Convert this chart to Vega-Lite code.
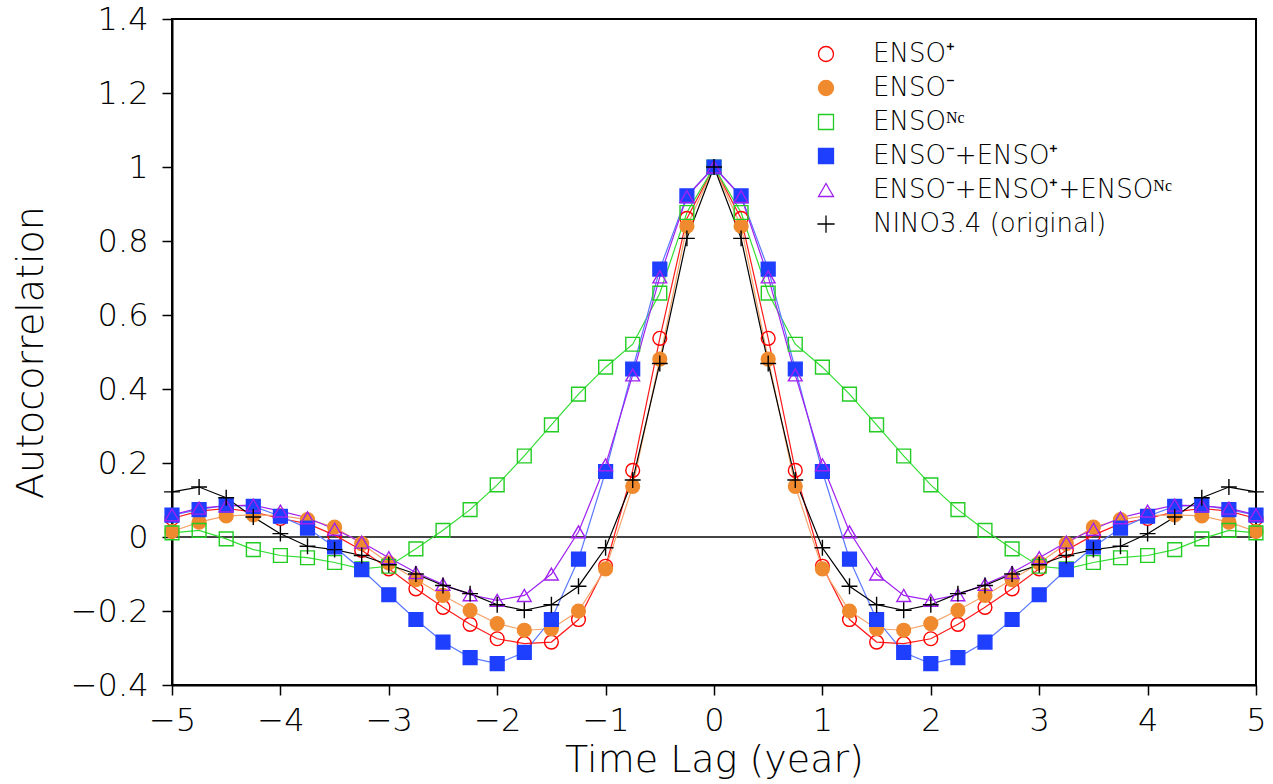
{
  "$schema": "https://vega.github.io/schema/vega-lite/v6.json",
  "width": 1084,
  "height": 666,
  "autosize": {"type": "none"},
  "padding": {"left": 172, "top": 19, "right": 17, "bottom": 99},
  "background": "white",
  "config": {
    "view": {"stroke": "black", "strokeWidth": 2},
    "font": "DejaVu Sans",
    "axis": {
      "labelFont": "DejaVu Sans", "labelFontWeight": 200, "labelFontSize": 32, "labelColor": "black",
      "titleFont": "DejaVu Sans", "titleFontWeight": 200, "titleFontSize": 38, "titleColor": "black",
      "domainColor": "black", "domainWidth": 2, "tickColor": "black", "tickWidth": 1.5, "tickSize": 10,
      "grid": false, "labelFlush": false, "labelOverlap": false
    },
    "legend": {
      "orient": "none", "legendX": 601, "legendY": 22, "padding": 0,
      "symbolSize": 225, "symbolStrokeWidth": 1.3, "symbolOffset": 40, "labelOffset": 34, "labelLimit": 600,
      "labelFont": "DejaVu Sans", "labelFontWeight": 200, "labelFontSize": 26, "labelColor": "black", "rowPadding": 8
    }
  },
  "data": {"values": [
    {"s":"p","x":-5,"y":0.05},{"s":"p","x":-4.75,"y":0.07},{"s":"p","x":-4.5,"y":0.077},{"s":"p","x":-4.25,"y":0.068},{"s":"p","x":-4,"y":0.05},{"s":"p","x":-3.75,"y":0.036},{"s":"p","x":-3.5,"y":0.005},{"s":"p","x":-3.25,"y":-0.036},{"s":"p","x":-3,"y":-0.086},{"s":"p","x":-2.75,"y":-0.14},{"s":"p","x":-2.5,"y":-0.19},{"s":"p","x":-2.25,"y":-0.236},{"s":"p","x":-2,"y":-0.275},{"s":"p","x":-1.75,"y":-0.288},{"s":"p","x":-1.5,"y":-0.284},{"s":"p","x":-1.25,"y":-0.223},{"s":"p","x":-1,"y":-0.079},{"s":"p","x":-0.75,"y":0.18},{"s":"p","x":-0.5,"y":0.537},{"s":"p","x":-0.25,"y":0.861},{"s":"p","x":0,"y":1},{"s":"p","x":0.25,"y":0.861},{"s":"p","x":0.5,"y":0.537},{"s":"p","x":0.75,"y":0.18},{"s":"p","x":1,"y":-0.079},{"s":"p","x":1.25,"y":-0.223},{"s":"p","x":1.5,"y":-0.284},{"s":"p","x":1.75,"y":-0.288},{"s":"p","x":2,"y":-0.275},{"s":"p","x":2.25,"y":-0.236},{"s":"p","x":2.5,"y":-0.19},{"s":"p","x":2.75,"y":-0.14},{"s":"p","x":3,"y":-0.086},{"s":"p","x":3.25,"y":-0.036},{"s":"p","x":3.5,"y":0.005},{"s":"p","x":3.75,"y":0.036},{"s":"p","x":4,"y":0.05},{"s":"p","x":4.25,"y":0.068},{"s":"p","x":4.5,"y":0.077},{"s":"p","x":4.75,"y":0.07},{"s":"p","x":5,"y":0.05},
    {"s":"m","x":-5,"y":0.015},{"s":"m","x":-4.75,"y":0.04},{"s":"m","x":-4.5,"y":0.057},{"s":"m","x":-4.25,"y":0.06},{"s":"m","x":-4,"y":0.058},{"s":"m","x":-3.75,"y":0.047},{"s":"m","x":-3.5,"y":0.027},{"s":"m","x":-3.25,"y":-0.018},{"s":"m","x":-3,"y":-0.07},{"s":"m","x":-2.75,"y":-0.115},{"s":"m","x":-2.5,"y":-0.158},{"s":"m","x":-2.25,"y":-0.198},{"s":"m","x":-2,"y":-0.234},{"s":"m","x":-1.75,"y":-0.252},{"s":"m","x":-1.5,"y":-0.248},{"s":"m","x":-1.25,"y":-0.2},{"s":"m","x":-1,"y":-0.086},{"s":"m","x":-0.75,"y":0.137},{"s":"m","x":-0.5,"y":0.481},{"s":"m","x":-0.25,"y":0.84},{"s":"m","x":0,"y":1},{"s":"m","x":0.25,"y":0.84},{"s":"m","x":0.5,"y":0.481},{"s":"m","x":0.75,"y":0.137},{"s":"m","x":1,"y":-0.086},{"s":"m","x":1.25,"y":-0.2},{"s":"m","x":1.5,"y":-0.248},{"s":"m","x":1.75,"y":-0.252},{"s":"m","x":2,"y":-0.234},{"s":"m","x":2.25,"y":-0.198},{"s":"m","x":2.5,"y":-0.158},{"s":"m","x":2.75,"y":-0.115},{"s":"m","x":3,"y":-0.07},{"s":"m","x":3.25,"y":-0.018},{"s":"m","x":3.5,"y":0.027},{"s":"m","x":3.75,"y":0.047},{"s":"m","x":4,"y":0.058},{"s":"m","x":4.25,"y":0.06},{"s":"m","x":4.5,"y":0.057},{"s":"m","x":4.75,"y":0.04},{"s":"m","x":5,"y":0.015},
    {"s":"nc","x":-5,"y":0.011},{"s":"nc","x":-4.75,"y":0.018},{"s":"nc","x":-4.5,"y":-0.005},{"s":"nc","x":-4.25,"y":-0.034},{"s":"nc","x":-4,"y":-0.05},{"s":"nc","x":-3.75,"y":-0.056},{"s":"nc","x":-3.5,"y":-0.069},{"s":"nc","x":-3.25,"y":-0.086},{"s":"nc","x":-3,"y":-0.079},{"s":"nc","x":-2.75,"y":-0.032},{"s":"nc","x":-2.5,"y":0.018},{"s":"nc","x":-2.25,"y":0.074},{"s":"nc","x":-2,"y":0.141},{"s":"nc","x":-1.75,"y":0.219},{"s":"nc","x":-1.5,"y":0.303},{"s":"nc","x":-1.25,"y":0.386},{"s":"nc","x":-1,"y":0.459},{"s":"nc","x":-0.75,"y":0.521},{"s":"nc","x":-0.5,"y":0.659},{"s":"nc","x":-0.25,"y":0.877},{"s":"nc","x":0,"y":1},{"s":"nc","x":0.25,"y":0.877},{"s":"nc","x":0.5,"y":0.659},{"s":"nc","x":0.75,"y":0.521},{"s":"nc","x":1,"y":0.459},{"s":"nc","x":1.25,"y":0.386},{"s":"nc","x":1.5,"y":0.303},{"s":"nc","x":1.75,"y":0.219},{"s":"nc","x":2,"y":0.141},{"s":"nc","x":2.25,"y":0.074},{"s":"nc","x":2.5,"y":0.018},{"s":"nc","x":2.75,"y":-0.032},{"s":"nc","x":3,"y":-0.079},{"s":"nc","x":3.25,"y":-0.086},{"s":"nc","x":3.5,"y":-0.069},{"s":"nc","x":3.75,"y":-0.056},{"s":"nc","x":4,"y":-0.05},{"s":"nc","x":4.25,"y":-0.034},{"s":"nc","x":4.5,"y":-0.005},{"s":"nc","x":4.75,"y":0.018},{"s":"nc","x":5,"y":0.011},
    {"s":"mp","x":-5,"y":0.059},{"s":"mp","x":-4.75,"y":0.074},{"s":"mp","x":-4.5,"y":0.086},{"s":"mp","x":-4.25,"y":0.083},{"s":"mp","x":-4,"y":0.056},{"s":"mp","x":-3.75,"y":0.024},{"s":"mp","x":-3.5,"y":-0.027},{"s":"mp","x":-3.25,"y":-0.088},{"s":"mp","x":-3,"y":-0.156},{"s":"mp","x":-2.75,"y":-0.223},{"s":"mp","x":-2.5,"y":-0.284},{"s":"mp","x":-2.25,"y":-0.326},{"s":"mp","x":-2,"y":-0.342},{"s":"mp","x":-1.75,"y":-0.312},{"s":"mp","x":-1.5,"y":-0.223},{"s":"mp","x":-1.25,"y":-0.06},{"s":"mp","x":-1,"y":0.177},{"s":"mp","x":-0.75,"y":0.454},{"s":"mp","x":-0.5,"y":0.724},{"s":"mp","x":-0.25,"y":0.922},{"s":"mp","x":0,"y":1},{"s":"mp","x":0.25,"y":0.922},{"s":"mp","x":0.5,"y":0.724},{"s":"mp","x":0.75,"y":0.454},{"s":"mp","x":1,"y":0.177},{"s":"mp","x":1.25,"y":-0.06},{"s":"mp","x":1.5,"y":-0.223},{"s":"mp","x":1.75,"y":-0.312},{"s":"mp","x":2,"y":-0.342},{"s":"mp","x":2.25,"y":-0.326},{"s":"mp","x":2.5,"y":-0.284},{"s":"mp","x":2.75,"y":-0.223},{"s":"mp","x":3,"y":-0.156},{"s":"mp","x":3.25,"y":-0.088},{"s":"mp","x":3.5,"y":-0.027},{"s":"mp","x":3.75,"y":0.024},{"s":"mp","x":4,"y":0.056},{"s":"mp","x":4.25,"y":0.083},{"s":"mp","x":4.5,"y":0.086},{"s":"mp","x":4.75,"y":0.074},{"s":"mp","x":5,"y":0.059},
    {"s":"mpn","x":-5,"y":0.06},{"s":"mpn","x":-4.75,"y":0.078},{"s":"mpn","x":-4.5,"y":0.084},{"s":"mpn","x":-4.25,"y":0.086},{"s":"mpn","x":-4,"y":0.07},{"s":"mpn","x":-3.75,"y":0.052},{"s":"mpn","x":-3.5,"y":0.021},{"s":"mpn","x":-3.25,"y":-0.014},{"s":"mpn","x":-3,"y":-0.056},{"s":"mpn","x":-2.75,"y":-0.096},{"s":"mpn","x":-2.5,"y":-0.128},{"s":"mpn","x":-2.25,"y":-0.156},{"s":"mpn","x":-2,"y":-0.171},{"s":"mpn","x":-1.75,"y":-0.158},{"s":"mpn","x":-1.5,"y":-0.1},{"s":"mpn","x":-1.25,"y":0.014},{"s":"mpn","x":-1,"y":0.195},{"s":"mpn","x":-0.75,"y":0.438},{"s":"mpn","x":-0.5,"y":0.703},{"s":"mpn","x":-0.25,"y":0.92},{"s":"mpn","x":0,"y":1},{"s":"mpn","x":0.25,"y":0.92},{"s":"mpn","x":0.5,"y":0.703},{"s":"mpn","x":0.75,"y":0.438},{"s":"mpn","x":1,"y":0.195},{"s":"mpn","x":1.25,"y":0.014},{"s":"mpn","x":1.5,"y":-0.1},{"s":"mpn","x":1.75,"y":-0.158},{"s":"mpn","x":2,"y":-0.171},{"s":"mpn","x":2.25,"y":-0.156},{"s":"mpn","x":2.5,"y":-0.128},{"s":"mpn","x":2.75,"y":-0.096},{"s":"mpn","x":3,"y":-0.056},{"s":"mpn","x":3.25,"y":-0.014},{"s":"mpn","x":3.5,"y":0.021},{"s":"mpn","x":3.75,"y":0.052},{"s":"mpn","x":4,"y":0.07},{"s":"mpn","x":4.25,"y":0.086},{"s":"mpn","x":4.5,"y":0.084},{"s":"mpn","x":4.75,"y":0.078},{"s":"mpn","x":5,"y":0.06},
    {"s":"nino","x":-5,"y":0.122},{"s":"nino","x":-4.75,"y":0.135},{"s":"nino","x":-4.5,"y":0.106},{"s":"nino","x":-4.25,"y":0.054},{"s":"nino","x":-4,"y":0.009},{"s":"nino","x":-3.75,"y":-0.025},{"s":"nino","x":-3.5,"y":-0.034},{"s":"nino","x":-3.25,"y":-0.05},{"s":"nino","x":-3,"y":-0.075},{"s":"nino","x":-2.75,"y":-0.1},{"s":"nino","x":-2.5,"y":-0.131},{"s":"nino","x":-2.25,"y":-0.153},{"s":"nino","x":-2,"y":-0.183},{"s":"nino","x":-1.75,"y":-0.198},{"s":"nino","x":-1.5,"y":-0.183},{"s":"nino","x":-1.25,"y":-0.133},{"s":"nino","x":-1,"y":-0.029},{"s":"nino","x":-0.75,"y":0.154},{"s":"nino","x":-0.5,"y":0.469},{"s":"nino","x":-0.25,"y":0.807},{"s":"nino","x":0,"y":1},{"s":"nino","x":0.25,"y":0.807},{"s":"nino","x":0.5,"y":0.469},{"s":"nino","x":0.75,"y":0.154},{"s":"nino","x":1,"y":-0.029},{"s":"nino","x":1.25,"y":-0.133},{"s":"nino","x":1.5,"y":-0.183},{"s":"nino","x":1.75,"y":-0.198},{"s":"nino","x":2,"y":-0.183},{"s":"nino","x":2.25,"y":-0.153},{"s":"nino","x":2.5,"y":-0.131},{"s":"nino","x":2.75,"y":-0.1},{"s":"nino","x":3,"y":-0.075},{"s":"nino","x":3.25,"y":-0.05},{"s":"nino","x":3.5,"y":-0.034},{"s":"nino","x":3.75,"y":-0.025},{"s":"nino","x":4,"y":0.009},{"s":"nino","x":4.25,"y":0.054},{"s":"nino","x":4.5,"y":0.106},{"s":"nino","x":4.75,"y":0.135},{"s":"nino","x":5,"y":0.122}
  ]},
  "encoding": {
    "x": {"field": "x", "type": "quantitative", "scale": {"domain": [-5, 5], "nice": false, "zero": false},
      "axis": {"values": [-5,-4,-3,-2,-1,0,1,2,3,4,5], "format": "~g", "title": "Time Lag (year)", "labelPadding": 10, "titleY": 86, "titleBaseline": "alphabetic"}},
    "y": {"field": "y", "type": "quantitative", "scale": {"domain": [-0.4, 1.4], "nice": false, "zero": false},
      "axis": {"values": [-0.4,-0.2,0,0.2,0.4,0.6,0.8,1,1.2,1.4], "format": "~g", "title": "Autocorrelation", "labelPadding": 14, "titleX": -130, "titleBaseline": "alphabetic"}}
  },
  "layer": [
    {
      "mark": {"type": "rule", "color": "#444444", "strokeWidth": 1.2},
      "encoding": {"x": {"datum": -5}, "x2": {"datum": 5}, "y": {"datum": 0}}
    },
    {
      "mark": {"type": "line", "strokeWidth": 1.2},
      "encoding": {
        "color": {"field": "s", "type": "nominal", "legend": null,
          "scale": {"domain": ["nino","mpn","mp","nc","m","p"], "range": ["#000000","#a020f0","#5a78ff","#33dd33","#f4a46a","#ff1a1a"]}},
        "detail": {"field": "s"}
      }
    },
    {
      "mark": {"type": "point", "size": 190, "strokeWidth": 1.4, "opacity": 1, "fillOpacity": 1, "strokeOpacity": 1},
      "encoding": {
        "fill": {"field": "s", "type": "nominal",
          "scale": {"domain": ["p","m","nc","mp","mpn","nino"], "range": ["transparent","#f08a2e","transparent","#1f3fff","transparent","transparent"]},
          "legend": {
            "title": null,
            "labelExpr": "datum.value === 'p' ? 'ENSO⁺' : datum.value === 'm' ? 'ENSO⁻' : datum.value === 'nc' ? 'ENSOᴺᶜ' : datum.value === 'mp' ? 'ENSO⁻+ENSO⁺' : datum.value === 'mpn' ? 'ENSO⁻+ENSO⁺+ENSOᴺᶜ' : 'NINO3.4 (original)'",
            "encode": {"symbols": {"shape": {"condition": [
              {"test": "datum.value === 'p' || datum.value === 'm'", "value": "M-4.4,0H4.4M-3.4,0A1,1,0,1,1,-5.4,0A1,1,0,1,1,-3.4,0ZM5.4,0A1,1,0,1,1,3.4,0A1,1,0,1,1,5.4,0Z"},
              {"test": "datum.value === 'nc' || datum.value === 'mp'", "value": "M-4.4,0H4.4M-5.3,-0.9H-3.5V0.9H-5.3ZM3.5,-0.9H5.3V0.9H3.5Z"},
              {"test": "datum.value === 'mpn'", "value": "M-4.4,0H4.4M-4.4,-0.9L-3.4,0.8H-5.4ZM4.4,-0.9L5.4,0.8H3.4Z"}
            ], "value": "M-4.4,0H4.4M-4.4,-1V1M4.4,-1V1"}}}
          }},
        "stroke": {"field": "s", "type": "nominal",
          "scale": {"domain": ["p","m","nc","mp","mpn","nino"], "range": ["#ff0000","#f08a2e","#22cc22","#1f3fff","#a020f0","#000000"]},
          "legend": {
            "title": null,
            "labelExpr": "datum.value === 'p' ? 'ENSO⁺' : datum.value === 'm' ? 'ENSO⁻' : datum.value === 'nc' ? 'ENSOᴺᶜ' : datum.value === 'mp' ? 'ENSO⁻+ENSO⁺' : datum.value === 'mpn' ? 'ENSO⁻+ENSO⁺+ENSOᴺᶜ' : 'NINO3.4 (original)'",
            "encode": {"symbols": {"shape": {"condition": [
              {"test": "datum.value === 'p' || datum.value === 'm'", "value": "M-4.4,0H4.4M-3.4,0A1,1,0,1,1,-5.4,0A1,1,0,1,1,-3.4,0ZM5.4,0A1,1,0,1,1,3.4,0A1,1,0,1,1,5.4,0Z"},
              {"test": "datum.value === 'nc' || datum.value === 'mp'", "value": "M-4.4,0H4.4M-5.3,-0.9H-3.5V0.9H-5.3ZM3.5,-0.9H5.3V0.9H3.5Z"},
              {"test": "datum.value === 'mpn'", "value": "M-4.4,0H4.4M-4.4,-0.9L-3.4,0.8H-5.4ZM4.4,-0.9L5.4,0.8H3.4Z"}
            ], "value": "M-4.4,0H4.4M-4.4,-1V1M4.4,-1V1"}}}
          }},
        "shape": {"field": "s", "type": "nominal",
          "scale": {"domain": ["p","m","nc","mp","mpn","nino"], "range": ["circle","circle","square","square","triangle-up","M-1.15,0H1.15M0,-1.15V1.15"]},
          "legend": {
            "title": null,
            "labelExpr": "datum.value === 'p' ? 'ENSO⁺' : datum.value === 'm' ? 'ENSO⁻' : datum.value === 'nc' ? 'ENSOᴺᶜ' : datum.value === 'mp' ? 'ENSO⁻+ENSO⁺' : datum.value === 'mpn' ? 'ENSO⁻+ENSO⁺+ENSOᴺᶜ' : 'NINO3.4 (original)'",
            "encode": {"symbols": {"shape": {"condition": [
              {"test": "datum.value === 'p' || datum.value === 'm'", "value": "M-4.4,0H4.4M-3.4,0A1,1,0,1,1,-5.4,0A1,1,0,1,1,-3.4,0ZM5.4,0A1,1,0,1,1,3.4,0A1,1,0,1,1,5.4,0Z"},
              {"test": "datum.value === 'nc' || datum.value === 'mp'", "value": "M-4.4,0H4.4M-5.3,-0.9H-3.5V0.9H-5.3ZM3.5,-0.9H5.3V0.9H3.5Z"},
              {"test": "datum.value === 'mpn'", "value": "M-4.4,0H4.4M-4.4,-0.9L-3.4,0.8H-5.4ZM4.4,-0.9L5.4,0.8H3.4Z"}
            ], "value": "M-4.4,0H4.4M-4.4,-1V1M4.4,-1V1"}}}
          }}
      }
    }
  ]
}
